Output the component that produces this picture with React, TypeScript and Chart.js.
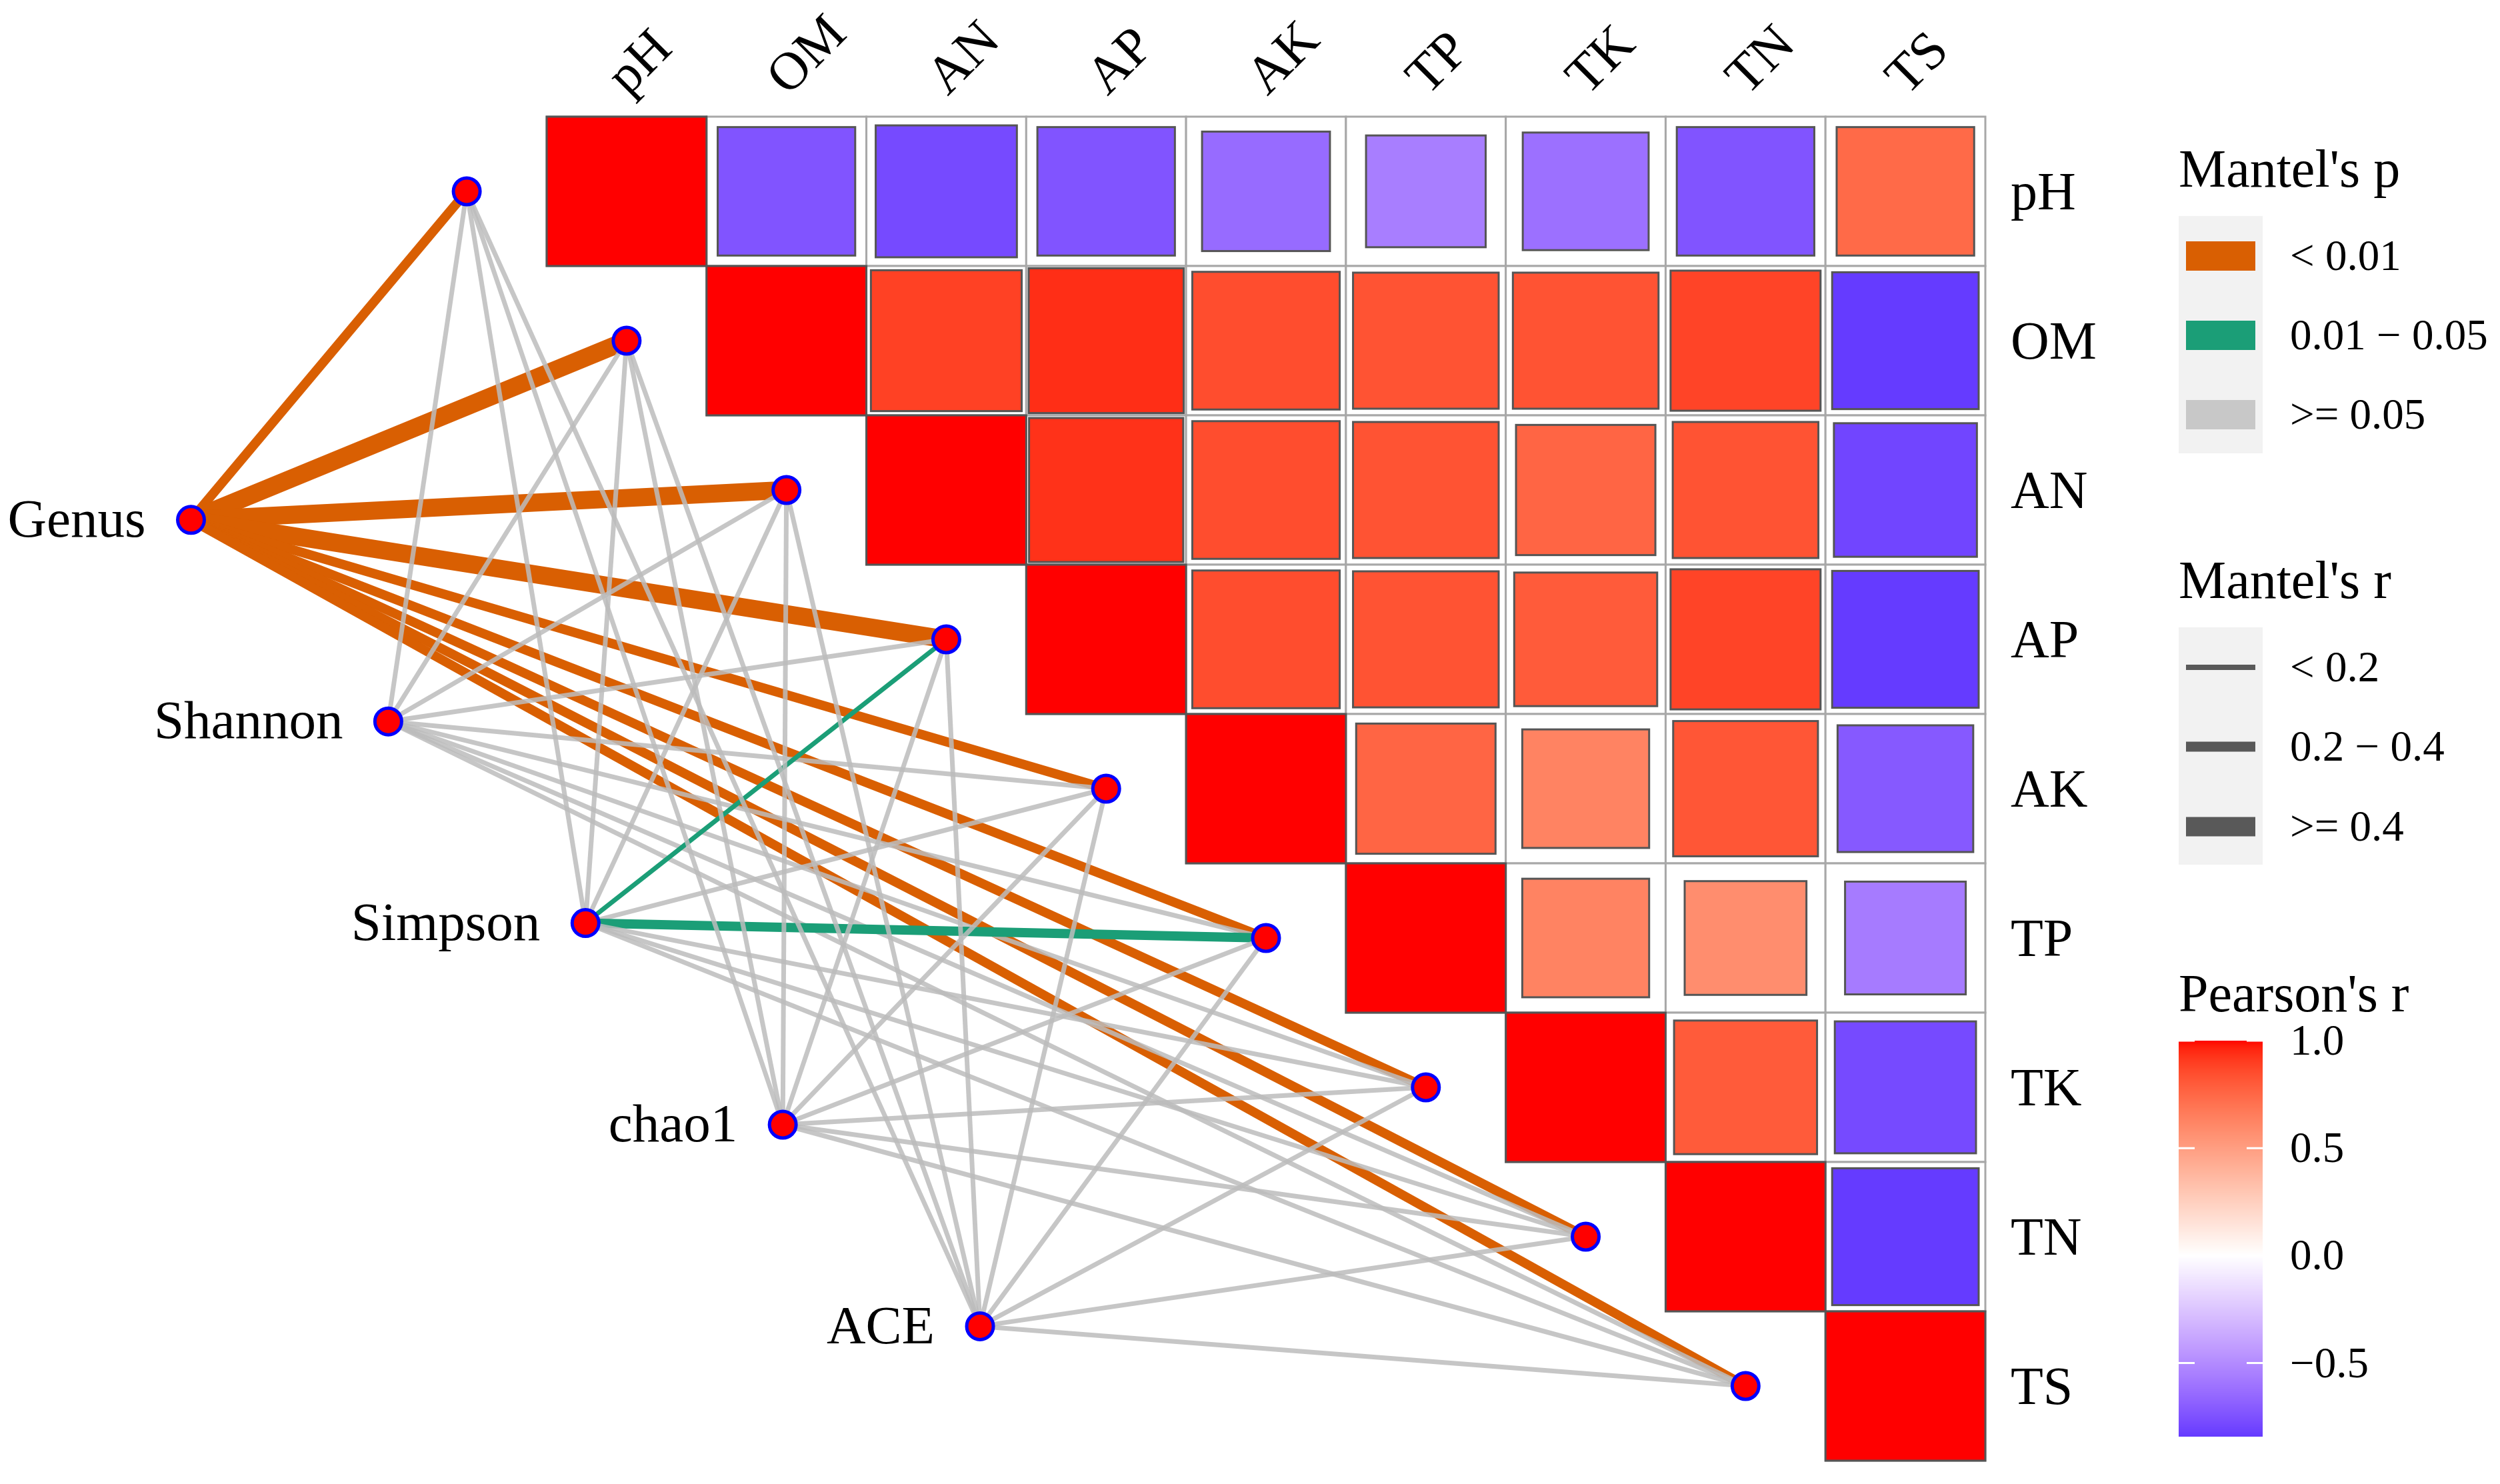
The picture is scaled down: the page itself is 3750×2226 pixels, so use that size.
import React, { useEffect, useRef } from 'react';
import { Chart, registerables } from 'chart.js';

Chart.register(...registerables);

// ---------------- DATA ----------------
const envNames = ['pH', 'OM', 'AN', 'AP', 'AK', 'TP', 'TK', 'TN', 'TS'];
const specNames = ['Genus', 'Shannon', 'Simpson', 'chao1', 'ACE'];

// Pearson's r, upper triangle: row i holds columns i..8
const rPH = [1.0, -0.74, -0.78, -0.74, -0.64, -0.56, -0.62, -0.74, 0.74];
const rOM = [1.0, 0.89, 0.94, 0.85, 0.83, 0.83, 0.88, -0.84];
const rAN = [1.0, 0.93, 0.85, 0.83, 0.76, 0.83, -0.8];
const rAP = [1.0, 0.85, 0.83, 0.8, 0.88, -0.84];
const rAK = [1.0, 0.76, 0.63, 0.82, -0.72];
const rTP = [1.0, 0.63, 0.58, -0.57];
const rTK = [1.0, 0.8, -0.78];
const rTN = [1.0, -0.84];
const rTS = [1.0];
const pearsonRows = [rPH, rOM, rAN, rAP, rAK, rTP, rTK, rTN, rTS];

// Mantel's r (columns follow envNames)
const mantelRGenus = [0.31, 0.52, 0.5, 0.46, 0.3, 0.31, 0.3, 0.29, 0.27];
const mantelRShannon = [0.08, 0.1, 0.09, 0.07, 0.06, 0.08, 0.05, 0.07, 0.06];
const mantelRSimpson = [0.1, 0.12, 0.11, 0.15, 0.09, 0.25, 0.08, 0.07, 0.06];
const mantelRChao1 = [0.06, 0.07, 0.08, 0.05, 0.06, 0.04, 0.07, 0.05, 0.06];
const mantelRACE = [0.05, 0.06, 0.07, 0.06, 0.05, 0.04, 0.06, 0.05, 0.07];
const mantelR = [mantelRGenus, mantelRShannon, mantelRSimpson, mantelRChao1, mantelRACE];

// Mantel's p
const mantelPGenus = [0.001, 0.001, 0.001, 0.001, 0.001, 0.001, 0.001, 0.001, 0.001];
const mantelPShannon = [0.21, 0.18, 0.25, 0.3, 0.42, 0.27, 0.5, 0.33, 0.46];
const mantelPSimpson = [0.16, 0.12, 0.14, 0.03, 0.22, 0.02, 0.31, 0.35, 0.41];
const mantelPChao1 = [0.38, 0.29, 0.26, 0.44, 0.37, 0.55, 0.31, 0.48, 0.4];
const mantelPACE = [0.45, 0.36, 0.3, 0.39, 0.47, 0.58, 0.35, 0.52, 0.33];
const mantelP = [mantelPGenus, mantelPShannon, mantelPSimpson, mantelPChao1, mantelPACE];

const pLegendLabels = ['< 0.01', '0.01 \u2212 0.05', '>= 0.05'];
const rLegendLabels = ['< 0.2', '0.2 \u2212 0.4', '>= 0.4'];
const colorbarTicks = [1.0, 0.5, 0.0, -0.5];

// ---------------- STYLE / LAYOUT ----------------
const FONT = '"Liberation Serif", "Times New Roman", serif';
const P_COLORS = ['#D95F02', '#1B9E77', 'rgba(188,188,188,0.85)'];
const P_KEY_COLORS = ['#D95F02', '#1B9E77', '#C8C8C8'];
const R_WIDTHS = [7, 14, 27];
const R_KEY_WIDTHS = [8, 15, 29];
const SPEC_START = { x: -2.725, y: 2.2 };
const SPEC_STEP = { x: 1.234, y: 1.35 };

const pCat = (p: number) => (p < 0.01 ? 0 : p < 0.05 ? 1 : 2);
const rCat = (r: number) => (r < 0.2 ? 0 : r < 0.4 ? 1 : 2);

// ---- Lab colour interpolation (like ggplot2 scale_fill_gradient2) ----
function toLin(c: number) {
  c /= 255;
  return c <= 0.04045 ? c / 12.92 : Math.pow((c + 0.055) / 1.055, 2.4);
}
function fromLin(c: number) {
  const v = c <= 0.0031308 ? 12.92 * c : 1.055 * Math.pow(Math.max(c, 0), 1 / 2.4) - 0.055;
  return Math.max(0, Math.min(255, Math.round(v * 255)));
}
const Xn = 0.95047, Yn = 1.0, Zn = 1.08883;
function rgbToLab(rgb: number[]) {
  const r = toLin(rgb[0]), g = toLin(rgb[1]), b = toLin(rgb[2]);
  const X = (0.4124 * r + 0.3576 * g + 0.1805 * b) / Xn;
  const Y = (0.2126 * r + 0.7152 * g + 0.0722 * b) / Yn;
  const Z = (0.0193 * r + 0.1192 * g + 0.9505 * b) / Zn;
  const f = (t: number) => (t > 0.008856 ? Math.cbrt(t) : 7.787 * t + 16 / 116);
  const fx = f(X), fy = f(Y), fz = f(Z);
  return [116 * fy - 16, 500 * (fx - fy), 200 * (fy - fz)];
}
function labToRgb(lab: number[]) {
  const fy = (lab[0] + 16) / 116;
  const fx = fy + lab[1] / 500;
  const fz = fy - lab[2] / 200;
  const inv = (t: number) => (t * t * t > 0.008856 ? t * t * t : (t - 16 / 116) / 7.787);
  const X = inv(fx) * Xn, Y = inv(fy) * Yn, Z = inv(fz) * Zn;
  const r = 3.2406 * X - 1.5372 * Y - 0.4986 * Z;
  const g = -0.9689 * X + 1.8758 * Y + 0.0415 * Z;
  const b = 0.0557 * X - 0.204 * Y + 1.057 * Z;
  return [fromLin(r), fromLin(g), fromLin(b)];
}
const LAB_LOW = rgbToLab([0, 0, 255]);
const LAB_MID = rgbToLab([255, 255, 255]);
const LAB_HIGH = rgbToLab([255, 0, 0]);
function fillColor(v: number) {
  const t = Math.min(1, Math.abs(v));
  const end = v >= 0 ? LAB_HIGH : LAB_LOW;
  const lab = [0, 1, 2].map((k) => LAB_MID[k] + (end[k] - LAB_MID[k]) * t);
  const c = labToRgb(lab);
  return `rgb(${c[0]},${c[1]},${c[2]})`;
}

const specPos = (s: number) => ({ x: SPEC_START.x + SPEC_STEP.x * s, y: SPEC_START.y + SPEC_STEP.y * s });
const envPos = (e: number) => ({ x: e - 1, y: e });

const allR = pearsonRows.flat();
const R_MIN = Math.min(...allR);
const R_MAX = Math.max(...allR);

// ---------------- PLUGIN ----------------
const heatPlugin = {
  id: 'heat',
  beforeDatasetsDraw(chart: any) {
    const ctx = chart.ctx as CanvasRenderingContext2D;
    const xs = chart.scales.x, ys = chart.scales.y;
    const px = (v: number) => xs.getPixelForValue(v);
    const py = (v: number) => ys.getPixelForValue(v);
    ctx.save();
    for (let i = 0; i < envNames.length; i++) {
      for (let j = i; j < envNames.length; j++) {
        const x0 = px(j - 0.5), x1 = px(j + 0.5), y0 = py(i - 0.5), y1 = py(i + 0.5);
        ctx.fillStyle = '#FFFFFF';
        ctx.fillRect(x0, y0, x1 - x0, y1 - y0);
        ctx.strokeStyle = '#A8A8A8';
        ctx.lineWidth = 3;
        ctx.strokeRect(x0, y0, x1 - x0, y1 - y0);
      }
    }
    for (let i = 0; i < envNames.length; i++) {
      const row = pearsonRows[i];
      for (let j = i; j < envNames.length; j++) {
        const v = row[j - i];
        const s = Math.sqrt(Math.abs(v));
        const cx = px(j), cy = py(i);
        const w = (px(j + 0.5) - px(j - 0.5)) * s;
        const h = (py(i + 0.5) - py(i - 0.5)) * s;
        ctx.fillStyle = fillColor(v);
        ctx.fillRect(cx - w / 2, cy - h / 2, w, h);
        ctx.strokeStyle = '#555555';
        ctx.lineWidth = 3;
        ctx.strokeRect(cx - w / 2, cy - h / 2, w, h);
      }
    }
    ctx.restore();
  },
  afterDraw(chart: any) {
    const ctx = chart.ctx as CanvasRenderingContext2D;
    const xs = chart.scales.x, ys = chart.scales.y;
    const px = (v: number) => xs.getPixelForValue(v);
    const py = (v: number) => ys.getPixelForValue(v);
    ctx.save();
    ctx.fillStyle = '#000000';
    ctx.font = `80px ${FONT}`;
    // row labels (right)
    ctx.textAlign = 'left';
    ctx.textBaseline = 'middle';
    envNames.forEach((n, i) => ctx.fillText(n, px(8.5) + 38, py(i) + 6));
    // column labels (top, rotated)
    const top = py(-0.5);
    envNames.forEach((n, j) => {
      ctx.save();
      ctx.translate(px(j) + 2, top - 30);
      ctx.rotate(-Math.PI / 4);
      ctx.textAlign = 'left';
      ctx.textBaseline = 'alphabetic';
      ctx.fillText(n, 0, 0);
      ctx.restore();
    });
    // species labels
    ctx.font = `81px ${FONT}`;
    ctx.textAlign = 'right';
    ctx.textBaseline = 'middle';
    specNames.forEach((n, s) => {
      const p = specPos(s);
      ctx.fillText(n, px(p.x) - 68, py(p.y) + 4);
    });

    // ---- legends ----
    const LX = 3268, LW = 126, TX = 3435;
    ctx.textAlign = 'left';
    ctx.textBaseline = 'alphabetic';
    ctx.font = `80px ${FONT}`;
    ctx.fillText("Mantel's p", LX, 280);
    ctx.fillStyle = '#F2F2F2';
    ctx.fillRect(LX, 324, LW, 356);
    const pKeyY = [384, 503, 622];
    pKeyY.forEach((y, k) => {
      ctx.fillStyle = P_KEY_COLORS[k];
      ctx.fillRect(LX + 11, y - 22, LW - 22, 44);
    });
    ctx.fillStyle = '#000000';
    ctx.font = `65px ${FONT}`;
    ctx.textBaseline = 'middle';
    pKeyY.forEach((y, k) => ctx.fillText(pLegendLabels[k], TX, y + 4));

    ctx.font = `80px ${FONT}`;
    ctx.textBaseline = 'alphabetic';
    ctx.fillText("Mantel's r", LX, 897);
    ctx.fillStyle = '#F2F2F2';
    ctx.fillRect(LX, 941, LW, 356);
    const rKeyY = [1001, 1120, 1240];
    rKeyY.forEach((y, k) => {
      ctx.strokeStyle = '#595959';
      ctx.lineWidth = R_KEY_WIDTHS[k];
      ctx.lineCap = 'butt';
      ctx.beginPath();
      ctx.moveTo(LX + 11, y);
      ctx.lineTo(LX + LW - 11, y);
      ctx.stroke();
    });
    ctx.fillStyle = '#000000';
    ctx.font = `65px ${FONT}`;
    ctx.textBaseline = 'middle';
    rKeyY.forEach((y, k) => ctx.fillText(rLegendLabels[k], TX, y + 4));

    ctx.font = `80px ${FONT}`;
    ctx.textBaseline = 'alphabetic';
    ctx.fillText("Pearson's r", LX, 1517);
    const BT = 1561, BB = 2154;
    const N = 300;
    for (let k = 0; k < N; k++) {
      const v = R_MAX - ((R_MAX - R_MIN) * (k + 0.5)) / N;
      ctx.fillStyle = fillColor(v);
      const y0 = BT + ((BB - BT) * k) / N;
      ctx.fillRect(LX, y0, LW, (BB - BT) / N + 1);
    }
    const vy = (v: number) => BT + ((R_MAX - v) / (R_MAX - R_MIN)) * (BB - BT);
    ctx.strokeStyle = '#FFFFFF';
    ctx.lineWidth = 3;
    colorbarTicks.forEach((t) => {
      const y = vy(t);
      ctx.beginPath();
      ctx.moveTo(LX, y);
      ctx.lineTo(LX + 24, y);
      ctx.moveTo(LX + LW - 24, y);
      ctx.lineTo(LX + LW, y);
      ctx.stroke();
    });
    ctx.fillStyle = '#000000';
    ctx.font = `65px ${FONT}`;
    ctx.textBaseline = 'middle';
    colorbarTicks.forEach((t) => {
      const s = t < 0 ? '\u2212' + Math.abs(t).toFixed(1) : t.toFixed(1);
      ctx.fillText(s, TX, vy(t) + 4);
    });
    ctx.restore();
  },
};

export default function App() {
  const ref = useRef<HTMLCanvasElement | null>(null);
  useEffect(() => {
    document.body.style.margin = '0';
    const canvas = ref.current;
    if (!canvas) return;
    const edgeSets: any[] = [];
    let k = 0;
    specNames.forEach((_, s) => {
      envNames.forEach((__, e) => {
        const a = specPos(s), b = envPos(e);
        edgeSets.push({
          data: [a, b],
          showLine: true,
          borderColor: P_COLORS[pCat(mantelP[s][e])],
          borderWidth: R_WIDTHS[rCat(mantelR[s][e])],
          borderCapStyle: 'butt',
          pointRadius: 0,
          pointHoverRadius: 0,
          clip: false,
          order: 1000 - k,
        });
        k++;
      });
    });
    const nodes = [
      ...specNames.map((_, s) => specPos(s)),
      ...envNames.map((_, e) => envPos(e)),
    ];
    const pxPerX = (2978 - 820) / 9;
    const pxPerY = (2191 - 175) / 9;
    const chart = new Chart(canvas, {
      type: 'scatter',
      data: {
        datasets: [
          ...edgeSets,
          {
            data: nodes,
            showLine: false,
            pointRadius: 20,
            pointHoverRadius: 20,
            pointBackgroundColor: '#FF0000',
            pointBorderColor: '#0000FF',
            pointBorderWidth: 5,
            clip: false,
            order: 0,
          },
        ],
      },
      options: {
        animation: false,
        responsive: false,
        devicePixelRatio: 1,
        events: [],
        layout: { padding: 0, autoPadding: false },
        plugins: { legend: { display: false }, tooltip: { enabled: false } },
        scales: {
          x: {
            type: 'linear',
            display: false,
            min: -0.5 - 820 / pxPerX,
            max: 8.5 + (3750 - 2978) / pxPerX,
          },
          y: {
            type: 'linear',
            display: false,
            reverse: true,
            min: -0.5 - 175 / pxPerY,
            max: 8.5 + (2226 - 2191) / pxPerY,
          },
        },
      } as any,
      plugins: [heatPlugin],
    });
    return () => chart.destroy();
  }, []);
  return (
    <div style={{ position: 'absolute', left: 0, top: 0, width: 3750, height: 2226, background: '#fff' }}>
      <canvas ref={ref} width={3750} height={2226} />
    </div>
  );
}
